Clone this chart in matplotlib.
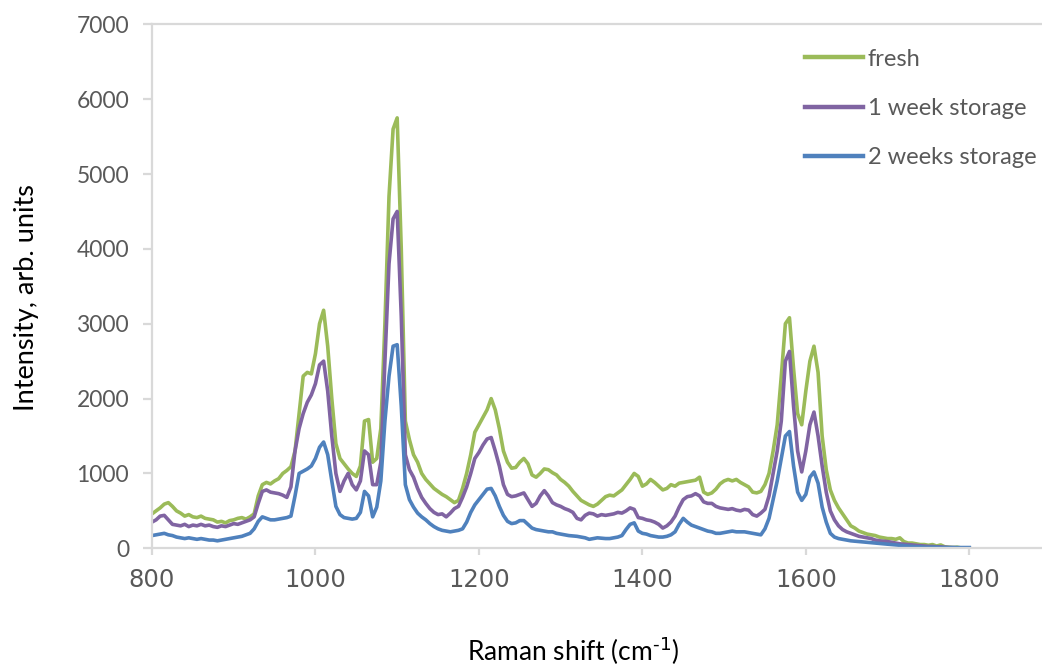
import numpy as np
import matplotlib
matplotlib.use("Agg")
import matplotlib.pyplot as plt

# Raman shift grid (cm^-1), 5 cm^-1 steps
shift = np.arange(800, 1805, 5)

fresh = [
    460, 500, 540, 590, 610, 560, 500, 470, 430, 450,      # 800-845
    420, 410, 430, 400, 390, 380, 350, 360, 340, 370,      # 850-895
    380, 400, 410, 390, 420, 460, 700, 850, 880, 860,      # 900-945
    900, 930, 1000, 1040, 1090, 1300, 1800, 2300, 2350, 2330,  # 950-995
    2600, 3000, 3180, 2700, 2000, 1400, 1200, 1130, 1060, 1000,  # 1000-1045
    960, 1100, 1700, 1720, 1150, 1200, 1600, 3000, 4700, 5600,   # 1050-1095
    5750, 4000, 1700, 1450, 1250, 1150, 1000, 920, 860, 800,     # 1100-1145
    760, 720, 690, 650, 610, 640, 800, 1000, 1250, 1550,         # 1150-1195
    1650, 1750, 1850, 2000, 1850, 1600, 1300, 1150, 1070, 1080,  # 1200-1245
    1150, 1200, 1130, 980, 950, 1000, 1060, 1050, 1010, 980,     # 1250-1295
    920, 880, 830, 760, 700, 640, 610, 580, 560, 590,            # 1300-1345
    640, 690, 710, 700, 740, 780, 850, 920, 1000, 960,           # 1350-1395
    830, 860, 920, 880, 830, 780, 800, 850, 830, 870,            # 1400-1445
    880, 890, 900, 910, 950, 750, 720, 740, 790, 860,            # 1450-1495
    900, 920, 900, 920, 880, 850, 820, 750, 740, 760,            # 1500-1545
    850, 1000, 1300, 1650, 2300, 3000, 3080, 2400, 1800, 1650,   # 1550-1595
    2100, 2500, 2700, 2350, 1500, 1050, 780, 640, 540, 460,      # 1600-1645
    380, 300, 270, 230, 210, 190, 180, 170, 150, 140,            # 1650-1695
    130, 130, 120, 140, 90, 70, 70, 60, 50, 50,                  # 1700-1745
    40, 50, 30, 45, 20, 15, 10, 15, 5, 5,                        # 1750-1795
    0,                                                           # 1800
]

week1 = [
    350, 380, 430, 440, 380, 320, 310, 300, 320, 290,
    310, 300, 320, 300, 310, 290, 280, 300, 290, 310,
    330, 320, 340, 360, 380, 420, 600, 760, 780, 750,
    740, 730, 710, 680, 820, 1300, 1600, 1800, 1950, 2050,
    2200, 2450, 2500, 2100, 1500, 1000, 760, 900, 1000, 850,
    780, 900, 1300, 1250, 850, 850, 1150, 2500, 3800, 4400,
    4500, 3100, 1250, 1050, 950, 800, 680, 600, 530, 480,
    450, 460, 420, 470, 530, 560, 680, 820, 1000, 1200,
    1280, 1380, 1460, 1480, 1300, 1100, 850, 720, 690, 700,
    720, 740, 650, 560, 600, 700, 770, 700, 610, 580,
    560, 530, 510, 480, 400, 380, 440, 470, 460, 430,
    450, 440, 450, 460, 480, 470, 500, 540, 520, 410,
    400, 380, 370, 350, 320, 270, 300, 350, 430, 550,
    650, 690, 700, 730, 700, 620, 600, 600, 560, 540,
    530, 520, 530, 510, 500, 520, 510, 450, 430, 470,
    520, 700, 1000, 1300, 1700, 2500, 2630, 1900, 1300, 1020,
    1300, 1650, 1820, 1500, 1100, 750, 500, 380, 300, 250,
    220, 200, 180, 160, 150, 140, 130, 110, 100, 95,
    90, 80, 70, 60, 55, 50, 45, 40, 35, 30,
    25, 25, 20, 20, 15, 10, 10, 5, 5, 5,
    0,
]

week2 = [
    170, 180, 190, 200, 180, 170, 150, 140, 130, 140,
    130, 120, 130, 120, 110, 110, 100, 110, 120, 130,
    140, 150, 160, 180, 200, 260, 360, 420, 400, 380,
    380, 390, 400, 410, 430, 700, 1000, 1030, 1060, 1100,
    1200, 1350, 1420, 1250, 900, 560, 450, 410, 400, 390,
    400, 480, 760, 700, 420, 550, 900, 1700, 2300, 2700,
    2720, 1900, 850, 650, 550, 470, 420, 380, 330, 290,
    260, 240, 230, 220, 230, 240, 260, 350, 480, 580,
    650, 720, 790, 800, 700, 560, 440, 360, 330, 340,
    370, 370, 320, 270, 250, 240, 230, 220, 220, 200,
    190, 180, 170, 165, 160, 150, 140, 120, 130, 140,
    135, 130, 130, 140, 150, 170, 250, 320, 340, 230,
    200, 190, 170, 160, 150, 150, 160, 180, 220, 320,
    400, 350, 310, 290, 270, 250, 230, 220, 200, 200,
    210, 220, 230, 220, 220, 220, 210, 200, 190, 180,
    260, 400, 650, 900, 1200, 1500, 1560, 1100, 750, 640,
    720, 950, 1020, 870, 550, 350, 200, 150, 130, 120,
    110, 100, 95, 90, 85, 80, 75, 70, 65, 60,
    55, 50, 45, 40, 35, 30, 25, 20, 20, 15,
    15, 15, 15, 10, 10, 10, 10, 10, 10, 10,
    10,
]

series_labels = ["fresh", "1 week storage", "2 weeks storage"]
series_colors = ["#9BBB59", "#8064A2", "#4F81BD"]
x_ticks = [800, 1000, 1200, 1400, 1600, 1800]
y_ticks = [0, 1000, 2000, 3000, 4000, 5000, 6000, 7000]

plt.rcParams["font.family"] = ["Lato", "DejaVu Sans"]
plt.rcParams["mathtext.default"] = "regular"

fig = plt.figure(figsize=(10.42, 6.66), dpi=100)
ax = fig.add_axes([0.14587, 0.17673, 0.85413, 0.78678])

for vals, lab, col in zip([fresh, week1, week2], series_labels, series_colors):
    ax.plot(shift, vals, color=col, lw=2.6, label=lab, solid_joinstyle="round")

ax.set_xlim(800, 1889)
ax.set_ylim(0, 7000)
ax.set_xticks(x_ticks)
ax.set_yticks(y_ticks)

axis_gray = "#D9D9D9"
text_gray = "#595959"
for side in ["left", "bottom", "top"]:
    ax.spines[side].set_color(axis_gray)
    ax.spines[side].set_linewidth(1.6)
ax.spines["right"].set_visible(False)

ax.tick_params(axis="y", direction="out", length=6.5, width=1.6, color=axis_gray,
               labelsize=16.5, labelcolor=text_gray, pad=10)
ax.tick_params(axis="x", direction="out", length=5, width=1.6, color=axis_gray,
               labelsize=17.5, labelcolor=text_gray, pad=9)
for lbl in ax.get_xticklabels():
    lbl.set_fontfamily("DejaVu Sans")

fig.text(0.025, 0.5526, "Intensity, arb. units", rotation=90, ha="center",
         va="center", fontsize=19.5, color="black")
fig.text(0.55, 0.0225, r"Raman shift (cm$^{\text{-1}}$)", ha="center", va="center",
         fontsize=19, color="black")

leg = ax.legend(loc="upper left", bbox_to_anchor=(0.7725, 0.927),
                bbox_transform=fig.transFigure, frameon=False, fontsize=17,
                handlelength=2.45, handletextpad=0.2, labelspacing=1.2,
                borderpad=0, borderaxespad=0)
for t in leg.get_texts():
    t.set_color(text_gray)
for h in leg.get_lines():
    h.set_linewidth(3.2)

fig.savefig("out.png", dpi=100)
